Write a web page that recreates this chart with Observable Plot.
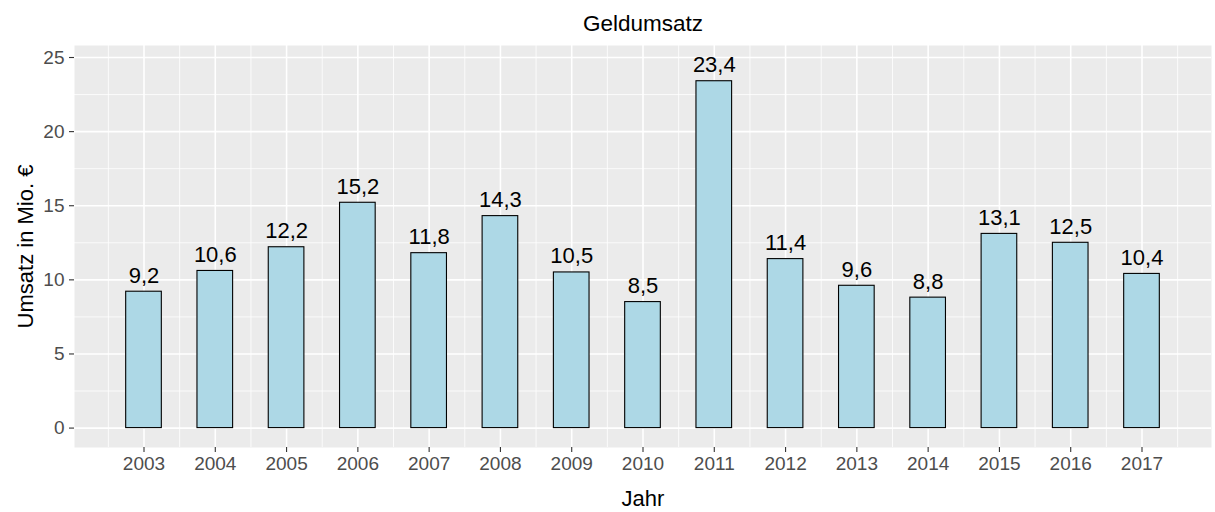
<!DOCTYPE html>
<html>
<head>
<meta charset="utf-8">
<script src="https://cdn.jsdelivr.net/npm/d3@7"></script>
<script src="https://cdn.jsdelivr.net/npm/@observablehq/plot@0.6"></script>
<style>
  html, body { margin: 0; padding: 0; background: white; }
</style>
</head>
<body>
<div id="chart"></div>
<script>
const years = [2003, 2004, 2005, 2006, 2007, 2008, 2009, 2010, 2011, 2012, 2013, 2014, 2015, 2016, 2017];
const values = [9.2, 10.6, 12.2, 15.2, 11.8, 14.3, 10.5, 8.5, 23.4, 11.4, 9.6, 8.8, 13.1, 12.5, 10.4];
const valueLabels = ["9,2", "10,6", "12,2", "15,2", "11,8", "14,3", "10,5", "8,5", "23,4", "11,4", "9,6", "8,8", "13,1", "12,5", "10,4"];
const yTicks = [0, 5, 10, 15, 20, 25];
const yMinor = [2.5, 7.5, 12.5, 17.5, 22.5];
const xMinor = [2002.5, 2003.5, 2004.5, 2005.5, 2006.5, 2007.5, 2008.5, 2009.5, 2010.5, 2011.5, 2012.5, 2013.5, 2014.5, 2015.5, 2016.5, 2017.5];
const title = "Geldumsatz";
const xTitle = "Jahr";
const yTitle = "Umsatz in Mio. €";

const data = years.map((year, i) => ({year, value: values[i], label: valueLabels[i]}));

const font = "'Liberation Sans', Arial, sans-serif";

const chart = Plot.plot({
  width: 1215,
  height: 512,
  marginLeft: 74,
  marginRight: 4,
  marginTop: 45,
  marginBottom: 65,
  x: {type: "linear", domain: [2002.025, 2017.975]},
  y: {domain: [-1.31, 25.81]},
  style: {fontFamily: font, background: "white", fontSize: "19px", overflow: "visible"},
  marks: [
    Plot.frame({fill: "#EBEBEB", stroke: null}),
    Plot.gridY(yMinor, {stroke: "white", strokeOpacity: 1, strokeWidth: 0.8}),
    Plot.gridX(xMinor, {stroke: "white", strokeOpacity: 1, strokeWidth: 0.8}),
    Plot.gridY(yTicks, {stroke: "white", strokeOpacity: 1, strokeWidth: 1.6}),
    Plot.gridX(years, {stroke: "white", strokeOpacity: 1, strokeWidth: 1.6}),
    Plot.rect(data, {x1: d => d.year - 0.25, x2: d => d.year + 0.25, y1: 0, y2: "value",
      fill: "#ADD8E6", stroke: "black", strokeWidth: 1.1}),
    Plot.text(data, {x: "year", y: "value", text: "label", lineAnchor: "bottom", dy: -9,
      fontSize: 22, fill: "black"}),
    Plot.axisY(yTicks, {tickSize: 5, tickPadding: 5, fontSize: 19, fill: "#4D4D4D", stroke: "#333333",
      strokeWidth: 1.1, label: null, tickFormat: d => String(d)}),
    Plot.axisX(years, {tickSize: 5, tickPadding: 4, fontSize: 19, fill: "#4D4D4D", stroke: "#333333",
      strokeWidth: 1.1, label: null, tickFormat: d => String(d)}),
    Plot.text([title], {frameAnchor: "top", lineAnchor: "bottom", dy: -15, fontSize: 22.5, fill: "black"}),
    Plot.text([xTitle], {frameAnchor: "bottom", lineAnchor: "bottom", dy: 58, fontSize: 22, fill: "black"}),
    Plot.text([yTitle], {frameAnchor: "left", textAnchor: "middle", lineAnchor: "bottom", rotate: -90, dx: -42,
      fontSize: 22, fill: "black"})
  ]
});
document.getElementById("chart").appendChild(chart);
</script>
</body>
</html>
